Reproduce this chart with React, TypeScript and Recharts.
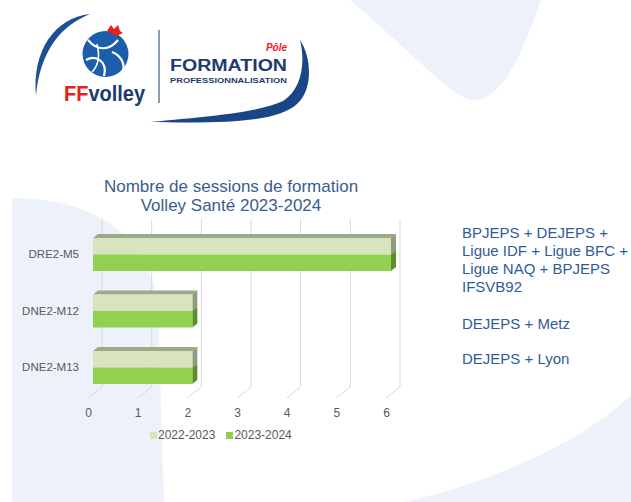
import React from 'react';
import { BarChart, Bar, XAxis, YAxis, CartesianGrid, Legend } from 'recharts';

// ---- data ----
const categories = ['DRE2-M5', 'DNE2-M12', 'DNE2-M13'];
const sessions20222023 = [6, 2, 2];
const sessions20232024 = [6, 2, 2];
const xTicks = [0, 1, 2, 3, 4, 5, 6];
const seriesNames = ['2022-2023', '2023-2024'];
const titleLines = ['Nombre de sessions de formation', 'Volley Santé 2023-2024'];
const noteLines = [
  { text: 'BPJEPS + DEJEPS +', y: 232 },
  { text: 'Ligue IDF + Ligue BFC +', y: 250 },
  { text: 'Ligue NAQ + BPJEPS', y: 268 },
  { text: 'IFSVB92', y: 286 },
  { text: 'DEJEPS + Metz', y: 323 },
  { text: 'DEJEPS + Lyon', y: 358 },
];

const data = categories.map((c, i) => ({
  name: c,
  a: sessions20222023[i],
  b: sessions20232024[i],
}));

const FONT = '"Liberation Sans", Arial, sans-serif';
const LIGHT = '#d7e4bd';
const DARK = '#92d050';
const DX = 5;
const DY = 4;

const makeShape = (front: string, side: string, top: string | null) => (props: any) => {
  const { x, y, width, height } = props;
  if (width == null || height == null) return <g />;
  return (
    <g>
      {top && (
        <polygon
          points={`${x},${y} ${x + DX},${y - DY} ${x + width + DX},${y - DY} ${x + width},${y}`}
          fill={top}
        />
      )}
      <polygon
        points={`${x + width},${y} ${x + width + DX},${y - DY} ${x + width + DX},${y + height - DY} ${x + width},${y + height}`}
        fill={side}
      />
      <rect x={x} y={y} width={width} height={height} fill={front} />
    </g>
  );
};

const lightShape = makeShape(LIGHT, '#8e9b7d', '#9caa8a');
const darkShape = makeShape(DARK, '#5e8e2c', null);

const gridLine = (p: any) => {
  const { x1, y1, y2 } = p;
  return (
    <path
      key={`g-${x1}`}
      d={`M${x1 + 9},${y1 - 7} L${x1 + 9},${y2 - 8.5} L${x1 - 5},${y2 + 2.5}`}
      stroke="#d9d9d9"
      strokeWidth={1}
      fill="none"
    />
  );
};

const XTick = (props: any) => {
  const { x, y, payload } = props;
  return (
    <text x={x - 4.5} y={y + 17.5} textAnchor="middle" dominantBaseline="central" fill="#595959" fontSize={12} fontFamily={FONT}>
      {payload.value}
    </text>
  );
};

const YTick = (props: any) => {
  const { x, y, payload } = props;
  return (
    <text x={x} y={y} textAnchor="end" dominantBaseline="central" fill="#595959" fontSize={11.5} fontFamily={FONT}>
      {payload.value}
    </text>
  );
};

const LegendContent = () => (
  <div style={{ display: 'flex', alignItems: 'center', fontFamily: FONT, fontSize: 12, color: '#595959', whiteSpace: 'nowrap' }}>
    <span style={{ display: 'inline-block', width: 7, height: 7, background: LIGHT, marginRight: 1 }} />
    <span style={{ marginRight: 11 }}>{seriesNames[0]}</span>
    <span style={{ display: 'inline-block', width: 7, height: 7, background: DARK, marginRight: 1 }} />
    <span>{seriesNames[1]}</span>
  </div>
);

const Background = () => (
  <svg width={631} height={502} style={{ position: 'absolute', left: 0, top: 0 }}>
    <rect x={0} y={0} width={631} height={502} fill="#ffffff" />
    <path d="M350,0 L541,0 C525,45 505,100 474,100 C455,100 420,60 350,0 Z" fill="#edf2fa" />
    <path d="M12,198 C80,198 150,225 158,310 L164,502 L12,502 Z" fill="#edf2fa" />
    <path d="M404,502 C480,485 570,450 631,396 L631,502 Z" fill="#edf2fa" />
  </svg>
);

const Overlay = () => (
  <svg width={631} height={502} style={{ position: 'absolute', left: 0, top: 0, pointerEvents: 'none' }}>
    {/* logo */}
    <path d="M90,14 C55,18 32,50 36,96 C40,52 60,26 90,14 Z" fill="#1c4f94" />
    <circle cx={105.5} cy={54} r={23} fill="#1b5eab" />
    <path d="M88,40 C98,52 110,50 118,40" stroke="#fff" strokeWidth={2.2} fill="none" />
    <path d="M86,60 C96,54 108,62 104,76" stroke="#fff" strokeWidth={2.2} fill="none" />
    <path d="M112,52 C122,56 126,66 122,72" stroke="#fff" strokeWidth={2.2} fill="none" />
    <path d="M97,44 C100,56 98,66 92,72" stroke="#fff" strokeWidth={1.6} fill="none" />
    <path d="M107,31 L111,25 L114,29 L118,25 L120,31 L123,33 L116,36 Z" fill="#e2231a" />
    <text x={64} y={101} fontFamily={FONT} fontWeight="bold" fontSize={22} textLength={81} lengthAdjust="spacingAndGlyphs">
      <tspan fill="#e2231a">FF</tspan>
      <tspan fill="#1b3b6f">volley</tspan>
    </text>
    <line x1={159} y1={30} x2={159} y2={103} stroke="#1b3b6f" strokeWidth={1} />
    <text x={287} y={51} textAnchor="end" fontFamily={FONT} fontWeight="bold" fontStyle="italic" fontSize={10} fill="#e2231a">Pôle</text>
    <text x={170} y={71} fontFamily={FONT} fontWeight="bold" fontSize={16} fill="#1f3a6e" textLength={117} lengthAdjust="spacingAndGlyphs">FORMATION</text>
    <text x={170} y={83} fontFamily={FONT} fontWeight="bold" fontSize={7.5} fill="#1f3a6e" textLength={117} lengthAdjust="spacingAndGlyphs">PROFESSIONNALISATION</text>
    <path d="M300,40 C312,58 313,90 297,104 C280,119 245,124 150,122 C190,118 255,114 283,101 C301,90 306,64 300,40 Z" fill="#1a4685" />
    {/* chart title */}
    {titleLines.map((t, i) => (
      <text key={t} x={231} y={186.5 + i * 18.5} textAnchor="middle" dominantBaseline="central" fontFamily={FONT} fontSize={17} fill="#3a5d8d">
        {t}
      </text>
    ))}
    {/* notes */}
    {noteLines.map((n) => (
      <text key={n.text} x={462} y={n.y} dominantBaseline="central" fontFamily={FONT} fontSize={15} fill="#2f5b98">
        {n.text}
      </text>
    ))}
  </svg>
);

export default function App() {
  return (
    <div style={{ position: 'fixed', left: 0, top: 0, width: 631, height: 502, overflow: 'hidden', background: '#fff' }}>
      <Background />
      <div style={{ position: 'absolute', left: 0, top: 0 }}>
        <BarChart
          width={631}
          height={502}
          data={data}
          layout="vertical"
          margin={{ top: 226, right: 240, bottom: 76.5, left: 8 }}
          barGap={0}
          barSize={16.5}
        >
          <CartesianGrid horizontal={false} vertical={gridLine} />
          <XAxis
            type="number"
            domain={[0, 6]}
            ticks={xTicks}
            axisLine={false}
            tickLine={false}
            tickSize={0}
            tickMargin={0}
            height={30}
            tick={<XTick />}
            interval={0}
          />
          <YAxis
            type="category"
            dataKey="name"
            axisLine={false}
            tickLine={false}
            tickSize={0}
            tickMargin={14}
            width={85}
            tick={<YTick />}
            interval={0}
          />
          <Legend
            verticalAlign="middle"
            align="center"
            layout="horizontal"
            content={<LegendContent />}
            wrapperStyle={{ position: 'absolute', top: 428, left: 150, width: 'auto' }}
          />
          <Bar dataKey="a" name={seriesNames[0]} fill={LIGHT} shape={lightShape} isAnimationActive={false} />
          <Bar dataKey="b" name={seriesNames[1]} fill={DARK} shape={darkShape} isAnimationActive={false} />
        </BarChart>
      </div>
      <Overlay />
    </div>
  );
}
